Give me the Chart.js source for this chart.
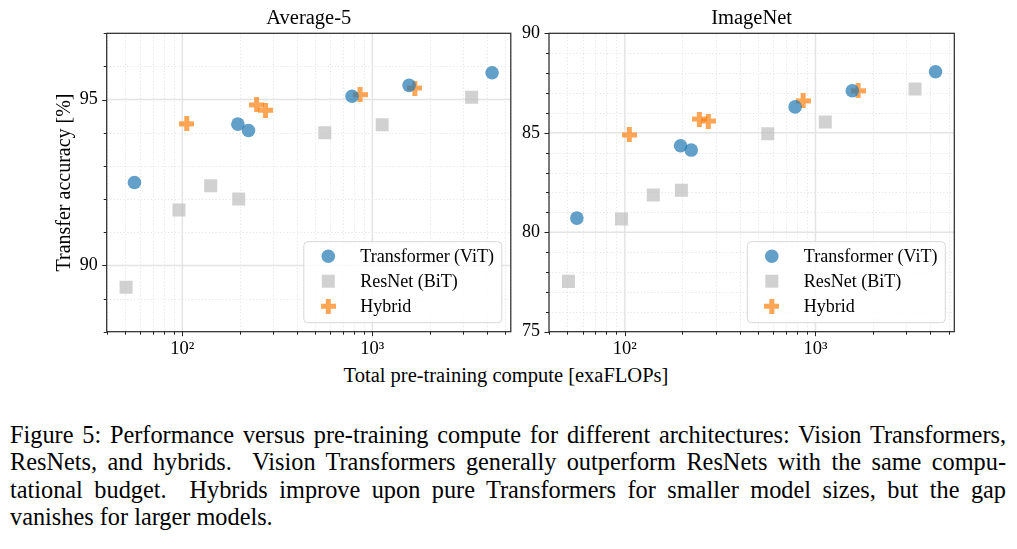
<!DOCTYPE html>
<html>
<head>
<meta charset="utf-8">
<script src="https://cdn.jsdelivr.net/npm/chart.js@4.4.0/dist/chart.umd.min.js"></script>
<style>
    body { margin: 0; background: #fff; width: 1017px; height: 549px; position: relative; overflow: hidden;
           font-family: 'Liberation Serif', 'Times New Roman', serif; color: #000; }
    #leftWrap { position: absolute; left: 0; top: 0; width: 520px; height: 360px; }
    #rightWrap { position: absolute; left: 500px; top: 0; width: 517px; height: 360px; }
    #xlabel { position: absolute; left: 0; width: 1012px; top: 364px; text-align: center; font-size: 20.5px; }
    #caption { position: absolute; left: 10px; width: 996px; top: 421px; font-size: 24.3px; line-height: 27.4px; }
    .ln { text-align: justify; text-align-last: justify; white-space: nowrap; }
    .last { text-align: left; text-align-last: left; }
</style>
</head>
<body>
<div id="leftWrap"><canvas id="avgChart" width="520" height="360"></canvas></div>
<div id="rightWrap"><canvas id="inetChart" width="517" height="360"></canvas></div>
<div id="xlabel">Total pre-training compute [exaFLOPs]</div>
<div id="caption">
    <div class="ln">Figure 5: Performance versus pre-training compute for different architectures: Vision Transformers,</div>
    <div class="ln">ResNets, and hybrids.&nbsp; Vision Transformers generally outperform ResNets with the same compu-</div>
    <div class="ln">tational budget.&nbsp; Hybrids improve upon pure Transformers for smaller model sizes, but the gap</div>
    <div class="ln last">vanishes for larger models.</div>
</div>
<script>
// data (x = exaFLOPs, y = accuracy %)
const vitX = [56, 196, 223, 782, 1560, 4265];
const vitAvg5 = [92.5, 94.26, 94.07, 95.1, 95.43, 95.81];
const vitImageNet = [80.71, 84.35, 84.13, 86.3, 87.11, 88.07];

const bitX = [50.6, 96, 141, 198, 562, 1126, 3330];
const bitAvg5 = [89.34, 91.67, 92.4, 92.0, 94.0, 94.24, 95.07];
const bitImageNet = [77.53, 80.66, 81.87, 82.11, 84.95, 85.54, 87.2];

const hybridX = [105.5, 246, 274, 861, 1673];
const hybridAvg5 = [94.27, 94.84, 94.68, 95.15, 95.35];
const hybridImageNet = [84.89, 85.69, 85.59, 86.6, 87.11];

const seriesNames = ['Transformer (ViT)', 'ResNet (BiT)', 'Hybrid'];
const xTickLabels = { 100: '10²', 1000: '10³' };
const xMajor = [100, 1000];

const blue = 'rgba(31, 119, 180, 0.7)';
const gray = 'rgba(190, 190, 190, 0.7)';
const orange = 'rgba(255, 127, 14, 0.7)';

const serif = "'Liberation Serif', 'Times New Roman', serif";
Chart.defaults.font.family = serif;
Chart.defaults.color = '#000';

// filled plus marker, like matplotlib "P"
function makePlus(color) {
    const c = document.createElement('canvas');
    c.width = 15; c.height = 15;
    const g = c.getContext('2d');
    g.fillStyle = color;
    g.beginPath();
    g.moveTo(5, 0); g.lineTo(10, 0); g.lineTo(10, 5); g.lineTo(15, 5); g.lineTo(15, 10);
    g.lineTo(10, 10); g.lineTo(10, 15); g.lineTo(5, 15); g.lineTo(5, 10); g.lineTo(0, 10);
    g.lineTo(0, 5); g.lineTo(5, 5); g.closePath();
    g.fill();
    return c;
}
const plusImg = makePlus(orange);

function toPoints(xs, ys) {
    return xs.map((x, i) => ({ x: x, y: ys[i] }));
}

function minorXValues(min, max) {
    const out = [];
    for (let p = 1; p <= 3; p++) {
        for (let m = 2; m <= 9; m++) {
            const v = m * Math.pow(10, p);
            if (v >= min && v <= max) out.push(v);
        }
    }
    return out;
}

// grid lines, frame, tick marks and legend
const framePlugin = {
    id: 'frame',
    beforeDatasetsDraw(chart, args, opts) {
        const { ctx, chartArea: a, scales: { x, y } } = chart;
        ctx.save();
        ctx.beginPath();
        ctx.rect(a.left, a.top, a.width, a.height);
        ctx.clip();
        // minor dotted
        ctx.strokeStyle = '#dedede';
        ctx.lineWidth = 0.8;
        ctx.setLineDash([1.2, 2.2]);
        minorXValues(x.min, x.max).forEach(v => {
            const px = Math.round(x.getPixelForValue(v)) + 0.5;
            ctx.beginPath(); ctx.moveTo(px, a.top); ctx.lineTo(px, a.bottom); ctx.stroke();
        });
        for (let v = Math.ceil(y.min); v <= y.max; v++) {
            if (opts.yMajor.includes(v)) continue;
            const py = Math.round(y.getPixelForValue(v)) + 0.5;
            ctx.beginPath(); ctx.moveTo(a.left, py); ctx.lineTo(a.right, py); ctx.stroke();
        }
        // major solid
        ctx.setLineDash([]);
        ctx.strokeStyle = '#e4e4e4';
        ctx.lineWidth = 1.5;
        xMajor.forEach(v => {
            const px = x.getPixelForValue(v);
            ctx.beginPath(); ctx.moveTo(px, a.top); ctx.lineTo(px, a.bottom); ctx.stroke();
        });
        opts.yMajor.forEach(v => {
            const py = y.getPixelForValue(v);
            ctx.beginPath(); ctx.moveTo(a.left, py); ctx.lineTo(a.right, py); ctx.stroke();
        });
        ctx.restore();
    },
    afterDraw(chart, args, opts) {
        const { ctx, chartArea: a, scales: { x, y } } = chart;
        ctx.save();
        ctx.strokeStyle = '#222';
        ctx.lineWidth = 1;
        // tick marks
        const tick = (x1, y1, x2, y2) => { ctx.beginPath(); ctx.moveTo(x1, y1); ctx.lineTo(x2, y2); ctx.stroke(); };
        minorXValues(x.min, x.max).forEach(v => {
            const px = Math.round(x.getPixelForValue(v)) + 0.5;
            tick(px, a.bottom, px, a.bottom + 3);
        });
        xMajor.forEach(v => {
            const px = Math.round(x.getPixelForValue(v)) + 0.5;
            tick(px, a.bottom, px, a.bottom + 4.5);
        });
        for (let v = Math.ceil(y.min); v <= y.max; v++) {
            const py = Math.round(y.getPixelForValue(v)) + 0.5;
            const len = opts.yMajor.includes(v) ? 4.5 : 3;
            tick(a.left, py, a.left - len, py);
        }
        // frame
        ctx.strokeStyle = '#262626';
        ctx.lineWidth = 1.2;
        ctx.strokeRect(a.left, a.top, a.width, a.height);

        // legend box in the lower right corner
        const w = 198, h = 81;
        const lx = a.right - 9 - w, ly = a.bottom - 9 - h;
        ctx.beginPath();
        ctx.roundRect(lx, ly, w, h, 4);
        ctx.fillStyle = 'rgba(255,255,255,0.85)';
        ctx.fill();
        ctx.strokeStyle = '#d8d8d8';
        ctx.lineWidth = 1;
        ctx.stroke();
        const rows = [14.5, 39.5, 64.5];
        const mx = lx + 24.5;
        ctx.fillStyle = blue;
        ctx.beginPath(); ctx.arc(mx, ly + rows[0], 6.8, 0, Math.PI * 2); ctx.fill();
        ctx.fillStyle = gray;
        ctx.fillRect(mx - 6.5, ly + rows[1] - 6.5, 13, 13);
        ctx.drawImage(plusImg, mx - 7.5, ly + rows[2] - 7.5);
        ctx.fillStyle = '#000';
        ctx.font = '18px ' + serif;
        ctx.textBaseline = 'middle';
        seriesNames.forEach((name, i) => ctx.fillText(name, lx + 56.5, ly + rows[i] + 1));
        ctx.restore();
    }
};

function buildChart(canvasId, title, vitY, bitY, hybridY, yMin, yMax, yMajor, yAxisWidth, padRight, showYTitle) {
    const ctx = document.getElementById(canvasId).getContext('2d');
    return new Chart(ctx, {
        type: 'scatter',
        data: {
            datasets: [
                {
                    label: seriesNames[1],
                    data: toPoints(bitX, bitY),
                    pointStyle: 'rect',
                    pointRadius: 9.2,
                    backgroundColor: gray,
                    borderWidth: 0
                },
                {
                    label: seriesNames[0],
                    data: toPoints(vitX, vitY),
                    pointStyle: 'circle',
                    pointRadius: 6.8,
                    backgroundColor: blue,
                    borderWidth: 0
                },
                {
                    label: seriesNames[2],
                    data: toPoints(hybridX, hybridY),
                    pointStyle: plusImg,
                    pointRadius: 7.5,
                    backgroundColor: orange,
                    borderWidth: 0
                }
            ]
        },
        options: {
            responsive: false,
            animation: false,
            events: [],
            layout: { padding: { left: 0, right: padRight, top: 0, bottom: 0 } },
            scales: {
                x: {
                    type: 'logarithmic',
                    min: 40,
                    max: 5350,
                    grid: { display: false, drawTicks: true, tickLength: 4 },
                    border: { display: false },
                    ticks: {
                        autoSkip: false,
                        maxRotation: 0,
                        minRotation: 0,
                        padding: 2,
                        font: { size: 18.5 },
                        callback: function (value) {
                            return xTickLabels[value] || '';
                        }
                    },
                    afterFit: function (scale) { scale.height = 28.3; }
                },
                y: {
                    min: yMin,
                    max: yMax,
                    grid: { display: false, drawTicks: true, tickLength: 4 },
                    border: { display: false },
                    title: {
                        display: showYTitle,
                        text: 'Transfer accuracy [%]',
                        font: { size: 20 },
                        padding: { top: 53, bottom: 0 }
                    },
                    ticks: {
                        stepSize: 1,
                        autoSkip: false,
                        padding: 5,
                        font: { size: 18 },
                        callback: function (value) {
                            return value % 5 === 0 ? value : '';
                        }
                    },
                    afterFit: function (scale) { scale.width = yAxisWidth; }
                }
            },
            plugins: {
                legend: { display: false },
                tooltip: { enabled: false },
                title: {
                    display: true,
                    text: title,
                    fullSize: false,
                    font: { size: 20.5, weight: 'normal' },
                    color: '#000',
                    padding: { top: 6, bottom: 2.7 }
                },
                frame: { yMajor: yMajor }
            }
        },
        plugins: [framePlugin]
    });
}

buildChart('avgChart', 'Average-5', vitAvg5, bitAvg5, hybridAvg5, 88, 97, [90, 95], 106.7, 7.7, true);
buildChart('inetChart', 'ImageNet', vitImageNet, bitImageNet, hybridImageNet, 75, 90, [75, 80, 85, 90], 49, 62.7, false);
</script>
</body>
</html>
